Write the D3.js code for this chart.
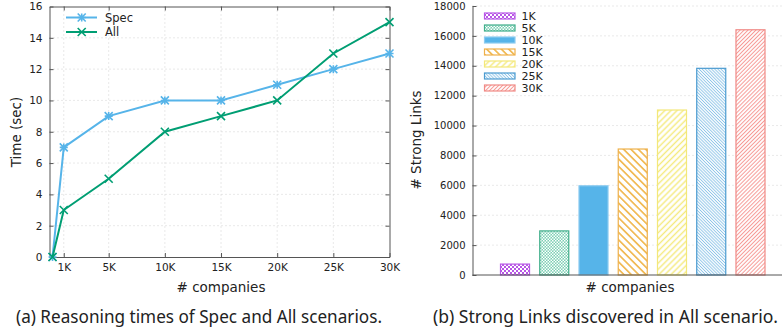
<!DOCTYPE html>
<html>
<head>
<meta charset="utf-8">
<script src="https://cdn.jsdelivr.net/npm/d3@7"></script>
<style>
  body { margin: 0; background: #fff; }
  svg text { font-family: "DejaVu Sans", sans-serif; fill: #222; }
  .caption { font-family: "Noto Sans", sans-serif; }
</style>
</head>
<body>
<svg id="chart" width="784" height="336"></svg>
<script>
// left chart: reasoning times
const companies_k = [0, 1, 5, 10, 15, 20, 25, 30]
const spec_times = [0, 7, 9, 10, 10, 11, 12, 13]
const all_times = [0, 3, 5, 8, 9, 10, 13, 15]
const x_ticks = [1, 5, 10, 15, 20, 25, 30]
const y_ticks_time = [0, 2, 4, 6, 8, 10, 12, 14, 16]

// right chart: strong links
const bar_labels = ["1K", "5K", "10K", "15K", "20K", "25K", "30K"]
const strong_links = [730, 2950, 5970, 8430, 11040, 13830, 16410]
const y_ticks_links = [0, 2000, 4000, 6000, 8000, 10000, 12000, 14000, 16000, 18000]

const svg = d3.select("#chart")
const defs = svg.append("defs")

// ---------- patterns for the bars ----------
function hatch(id, color, gap, angle, sw) {
    let p = defs.append("pattern")
        .attr("id", id)
        .attr("patternUnits", "userSpaceOnUse")
        .attr("width", gap).attr("height", gap)
        .attr("patternTransform", "rotate(" + angle + ")")
    p.append("rect").attr("width", gap).attr("height", gap).attr("fill", "#fff")
    p.append("line").attr("x1", gap / 2).attr("x2", gap / 2).attr("y1", 0).attr("y2", gap)
        .attr("stroke", color).attr("stroke-width", sw)
}
function checker(id, color, size, hole) {
    let p = defs.append("pattern")
        .attr("id", id)
        .attr("patternUnits", "userSpaceOnUse")
        .attr("width", size).attr("height", size)
    p.append("rect").attr("width", size).attr("height", size).attr("fill", color)
    p.append("rect").attr("x", 0).attr("y", 0).attr("width", hole).attr("height", hole).attr("fill", "#fff")
    p.append("rect").attr("x", size / 2).attr("y", size / 2).attr("width", hole).attr("height", hole).attr("fill", "#fff")
}
checker("p0", "#b857e6", 4, 2)
checker("p1", "#7ccfb4", 3, 1.5)
hatch("p3", "#f0b649", 5.2, -45, 1.6)
hatch("p4", "#f5ea7c", 4.3, 45, 1.4)
hatch("p5", "#8cc4e8", 2.2, -45, 0.9)
hatch("p6", "#f79a96", 2.8, 45, 1.0)

const bar_fill = ["url(#p0)", "url(#p1)", "#56b4e9", "url(#p3)", "url(#p4)", "url(#p5)", "url(#p6)"]
const bar_edge = ["#b857e6", "#3fae8a", "#8ccbf0", "#eeb04a", "#f3e87a", "#4b9bd0", "#f08a86"]

// ================= left chart =================
const L = { left: 49.5, right: 389.5, top: 6.5, bottom: 257 }
const xL = d3.scaleLinear().domain([-0.27, 30]).range([L.left, L.right])
const yL = d3.scaleLinear().domain([0, 16]).range([L.bottom, L.top])

let gl = svg.append("g")

// grid
gl.append("g").selectAll("line").data(y_ticks_time.slice(1, -1)).enter().append("line")
    .attr("x1", L.left).attr("x2", L.right)
    .attr("y1", d => yL(d)).attr("y2", d => yL(d))
    .attr("stroke", "#c8c8c8").attr("stroke-width", 0.8).attr("stroke-dasharray", "1,3")
gl.append("g").selectAll("line").data(x_ticks.slice(0, -1)).enter().append("line")
    .attr("x1", d => xL(d)).attr("x2", d => xL(d))
    .attr("y1", L.top).attr("y2", L.bottom)
    .attr("stroke", "#c8c8c8").attr("stroke-width", 0.8).attr("stroke-dasharray", "1,3")

// axes via d3, ticks drawn inward
gl.append("g").attr("transform", "translate(0," + L.bottom + ")")
    .call(d3.axisBottom(xL).tickValues(x_ticks).tickFormat(d => d + "K").tickSizeInner(-4).tickSizeOuter(0).tickPadding(7))
gl.append("g").attr("transform", "translate(" + L.left + ",0)")
    .call(d3.axisLeft(yL).tickValues(y_ticks_time).tickSizeInner(-4).tickSizeOuter(0).tickPadding(7))
gl.append("g").attr("transform", "translate(0," + L.top + ")")
    .call(d3.axisTop(xL).tickValues(x_ticks).tickFormat("").tickSizeInner(-4).tickSizeOuter(0))
gl.append("g").attr("transform", "translate(" + L.right + ",0)")
    .call(d3.axisRight(yL).tickValues(y_ticks_time).tickFormat("").tickSizeInner(-4).tickSizeOuter(0))
gl.selectAll(".domain").attr("stroke", "#555")
gl.selectAll(".tick line").attr("stroke", "#555")
gl.selectAll(".tick text").style("font-size", "10.5px").style("font-family", "DejaVu Sans").attr("fill", "#222")

// lines + markers
const line = d3.line().x((d, i) => xL(companies_k[i])).y(d => yL(d))
function star(g, x, y, s) {
    g.append("path").attr("d", `M${x - s},${y}H${x + s}M${x},${y - s}V${y + s}M${x - s},${y - s}L${x + s},${y + s}M${x - s},${y + s}L${x + s},${y - s}`)
}
function cross(g, x, y, s) {
    g.append("path").attr("d", `M${x - s},${y - s}L${x + s},${y + s}M${x - s},${y + s}L${x + s},${y - s}`)
}
const series = [
    { name: "Spec", vals: spec_times, color: "#56b4e9", mark: star },
    { name: "All", vals: all_times, color: "#009e73", mark: cross }
]
series.forEach(s => {
    gl.append("path").datum(s.vals).attr("d", line)
        .attr("fill", "none").attr("stroke", s.color).attr("stroke-width", 2)
    let mg = gl.append("g").attr("stroke", s.color).attr("stroke-width", 1.6).attr("fill", "none")
    s.vals.forEach((v, i) => s.mark(mg, xL(companies_k[i]), yL(v), 4))
})

// legend
series.forEach((s, i) => {
    let y = 17.5 + i * 14.5
    gl.append("line").attr("x1", 66).attr("x2", 97).attr("y1", y).attr("y2", y)
        .attr("stroke", s.color).attr("stroke-width", 2)
    let mg = gl.append("g").attr("stroke", s.color).attr("stroke-width", 1.6).attr("fill", "none")
    s.mark(mg, 81.7, y, 4)
    gl.append("text").attr("x", 105).attr("y", y + 4).style("font-size", "11.5px").text(s.name)
})

gl.append("text").attr("transform", "translate(21,132) rotate(-90)")
    .attr("text-anchor", "middle").style("font-size", "13.5px").text("Time (sec)")
gl.append("text").attr("x", 221).attr("y", 292)
    .attr("text-anchor", "middle").style("font-size", "13.5px").text("# companies")

// ================= right chart =================
const R = { left: 472.5, right: 782, top: 6, bottom: 275 }
const xR = d3.scaleBand().domain(bar_labels).range([500, 765.5]).paddingInner(0.235).paddingOuter(0)
const yR = d3.scaleLinear().domain([0, 18000]).range([R.bottom, R.top])

let gr = svg.append("g")
gr.append("g").selectAll("line").data(y_ticks_links.slice(1)).enter().append("line")
    .attr("x1", R.left).attr("x2", R.right)
    .attr("y1", d => yR(d)).attr("y2", d => yR(d))
    .attr("stroke", "#c8c8c8").attr("stroke-width", 0.8).attr("stroke-dasharray", "1,3")

gr.append("g").attr("transform", "translate(" + R.left + ",0)")
    .call(d3.axisLeft(yR).tickValues(y_ticks_links).tickFormat(d3.format("d")).tickSizeInner(-4).tickSizeOuter(0).tickPadding(7))
gr.selectAll(".domain").attr("stroke", "#555")
gr.selectAll(".tick line").attr("stroke", "#555")
gr.selectAll(".tick text").style("font-size", "10px").style("font-family", "DejaVu Sans").attr("fill", "#222")

gr.append("g").selectAll("rect").data(strong_links).enter().append("rect")
    .attr("x", (d, i) => xR(bar_labels[i]) + 0.5)
    .attr("width", xR.bandwidth() - 1)
    .attr("y", d => yR(d))
    .attr("height", d => R.bottom - yR(d))
    .attr("fill", (d, i) => bar_fill[i])
    .attr("stroke", (d, i) => bar_edge[i])
    .attr("stroke-width", 1.2)

gr.append("line").attr("x1", R.left).attr("x2", R.right).attr("y1", R.bottom).attr("y2", R.bottom)
    .attr("stroke", "#555").attr("stroke-width", 1)

// legend
bar_labels.forEach((lab, i) => {
    let y = 16 + i * 12
    gr.append("rect").attr("x", 484.5).attr("y", y - 3).attr("width", 30.5).attr("height", 6)
        .attr("fill", bar_fill[i]).attr("stroke", bar_edge[i]).attr("stroke-width", 1.2)
    gr.append("text").attr("x", 521.5).attr("y", y + 4).style("font-size", "11px").text(lab)
})

gr.append("text").attr("transform", "translate(421,140) rotate(-90)")
    .attr("text-anchor", "middle").style("font-size", "13.5px").text("# Strong Links")
gr.append("text").attr("x", 630).attr("y", 292)
    .attr("text-anchor", "middle").style("font-size", "13.5px").text("# companies")

// captions
svg.append("text").attr("class", "caption").attr("x", 16).attr("y", 323)
    .attr("textLength", 366).attr("lengthAdjust", "spacingAndGlyphs")
    .style("font-size", "17.5px").text("(a) Reasoning times of Spec and All scenarios.")
svg.append("text").attr("class", "caption").attr("x", 433).attr("y", 323)
    .attr("textLength", 345).attr("lengthAdjust", "spacingAndGlyphs")
    .style("font-size", "17.5px").text("(b) Strong Links discovered in All scenario.")
</script>
</body>
</html>
